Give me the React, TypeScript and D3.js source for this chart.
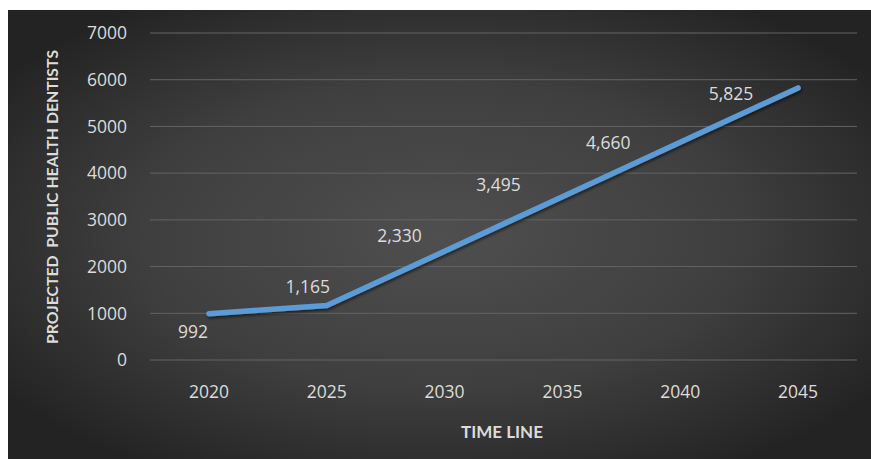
import React from "react";
import * as d3 from "d3";

const years = ["2020", "2025", "2030", "2035", "2040", "2045"];
const dentists = [992, 1165, 2330, 3495, 4660, 5825];
const yTicks = [0, 1000, 2000, 3000, 4000, 5000, 6000, 7000];

// Data-label placement relative to each point (dx, dy in px)
const labelOffsets: [number, number][] = [
  [-16, 18],
  [-19, -19],
  [-45, -15],
  [-64, -12],
  [-72, 0],
  [-67, 6],
];

const W = 871;
const H = 459;
const margin = { left: 150, right: 14, top: 33, bottom: 99 };

export default function App() {
  const x = d3
    .scaleBand<string>()
    .domain(years)
    .range([margin.left, W - margin.right]);
  const y = d3
    .scaleLinear()
    .domain([0, 7000])
    .range([H - margin.bottom, margin.top]);

  const cx = (d: string) => (x(d) ?? 0) + x.bandwidth() / 2;
  const pts: [number, number][] = years.map((yr, i) => [cx(yr), y(dentists[i])]);
  const line = d3.line()(pts) ?? "";
  const fmt = d3.format(",");
  const font = "'Open Sans', 'Segoe UI', sans-serif";
  const titleFont = "Lato, Carlito, sans-serif";
  const fs = 17.5;

  return (
    <svg
      width={W}
      height={H}
      style={{ position: "absolute", left: 0, top: 0, display: "block" }}
    >
      <defs>
        <radialGradient id="bg" cx="0.5" cy="0.5" r="0.62" fx="0.5" fy="0.5">
          <stop offset="0" stopColor="#4f4f4f" />
          <stop offset="0.55" stopColor="#3f3f3f" />
          <stop offset="1" stopColor="#232323" />
        </radialGradient>
        <filter id="shadow" x="-10%" y="-10%" width="120%" height="130%">
          <feDropShadow dx="1" dy="2" stdDeviation="1.5" floodColor="#000" floodOpacity="0.55" />
        </filter>
      </defs>
      <rect x={0} y={0} width={W} height={H} fill="#fff" />
      <rect x={8} y={10} width={W - 8} height={H - 10} fill="url(#bg)" />

      {yTicks.map((t) => (
        <g key={t}>
          <line
            x1={margin.left}
            x2={W - margin.right}
            y1={y(t)}
            y2={y(t)}
            stroke="#646464"
            strokeWidth={1}
          />
          <text
            x={127}
            y={y(t)}
            dy="0.36em"
            textAnchor="end"
            fill="#dcdcdc"
            fontFamily={font}
            fontSize={fs}
          >
            {t}
          </text>
        </g>
      ))}

      {years.map((yr) => (
        <text
          key={yr}
          x={cx(yr)}
          y={392}
          dy="0.36em"
          textAnchor="middle"
          fill="#dcdcdc"
          fontFamily={font}
          fontSize={fs}
        >
          {yr}
        </text>
      ))}

      <path
        d={line}
        fill="none"
        stroke="#5b9bd5"
        strokeWidth={5.5}
        strokeLinecap="round"
        strokeLinejoin="round"
        filter="url(#shadow)"
      />

      {dentists.map((v, i) => (
        <text
          key={i}
          x={pts[i][0] + labelOffsets[i][0]}
          y={pts[i][1] + labelOffsets[i][1]}
          dy="0.36em"
          textAnchor="middle"
          fill="#dcdcdc"
          fontFamily={font}
          fontSize={fs}
        >
          {fmt(v)}
        </text>
      ))}

      <text
        x={502}
        y={432}
        dy="0.36em"
        textAnchor="middle"
        fill="#dcdcdc"
        fontFamily={titleFont}
        fontWeight="bold"
        fontSize={17}
      >
        TIME LINE
      </text>
      <text
        transform={`translate(52,${197}) rotate(-90)`}
        dy="0.36em"
        textAnchor="middle"
        fill="#dcdcdc"
        fontFamily={titleFont}
        fontWeight="bold"
        fontSize={15.8}
        style={{ whiteSpace: "pre" }}
      >
        {"PROJECTED  PUBLIC HEALTH DENTISTS"}
      </text>
    </svg>
  );
}
